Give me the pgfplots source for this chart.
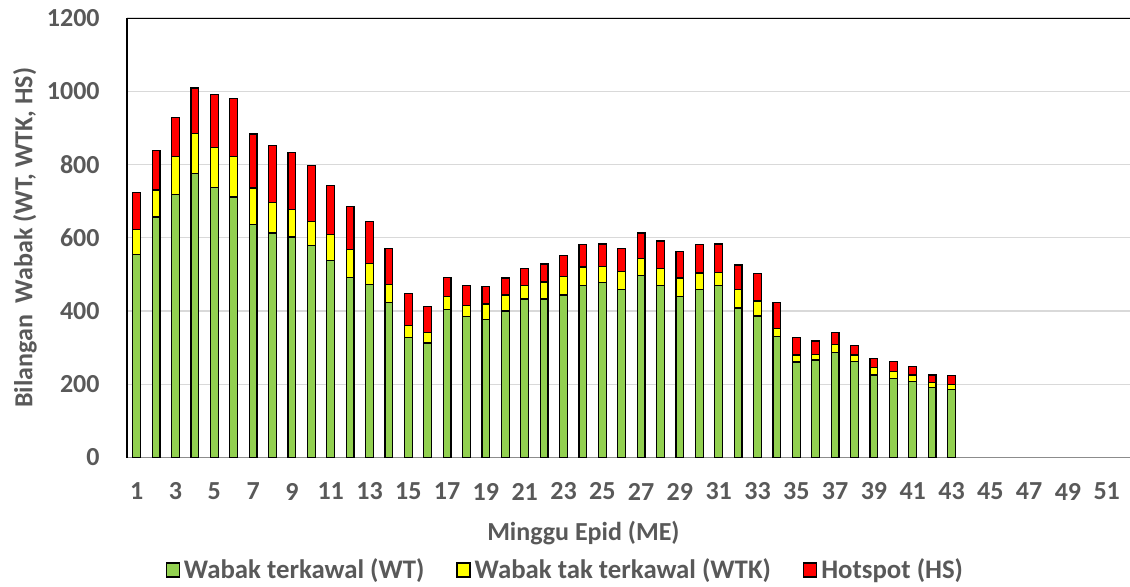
\documentclass[border=0pt]{standalone}
\usepackage{pgfplots}
\usepackage{pgfplotstable}
\pgfplotsset{compat=1.18}
\usepackage{fontspec}
\setmainfont{Carlito}
\definecolor{txtgray}{HTML}{595959}
\definecolor{gridgray}{HTML}{D9D9D9}
\definecolor{axgray}{HTML}{8C8C8C}
\definecolor{wtgreen}{HTML}{92D050}
\definecolor{wtkyellow}{HTML}{FFFF00}
\definecolor{hsred}{HTML}{FF0000}
\pgfplotstableread{
week wt wtk hs
1 554 69 101
2 657 73 108
3 719 103 106
4 775 109 125
5 737 110 144
6 711 110 159
7 637 99 147
8 613 83 156
9 602 75 155
10 578 67 152
11 538 70 134
12 491 76 118
13 473 56 116
14 424 49 98
15 327 34 87
16 313 29 70
17 404 36 51
18 385 30 55
19 376 43 48
20 400 44 46
21 433 37 46
22 433 46 49
23 444 51 56
24 470 50 61
25 478 44 61
26 458 50 62
27 496 48 69
28 470 46 75
29 440 50 72
30 458 46 77
31 470 36 77
32 408 50 68
33 386 41 75
34 330 22 71
35 261 19 47
36 266 15 37
37 287 22 32
38 263 17 26
39 225 21 24
40 215 19 28
41 208 17 24
42 192 12 21
43 186 13 25
}\datatable
\newcommand{\lbl}{\fontsize{13}{15}\selectfont\bfseries\color{txtgray}}
\newcommand{\lgd}{\fontsize{13.4}{15}\selectfont\bfseries\color{txtgray}}
\begin{document}
\begin{tikzpicture}
\begin{axis}[
  at={(0,0)}, anchor=south west,
  scale only axis,
  width=501.5pt, height=219.75pt,
  xmin=0.5, xmax=52.2, ymin=0, ymax=1200,
  enlargelimits=false,
  ybar stacked, bar width=3.9pt,
  xtick={1,3,...,51},
  ytick={0,200,...,1200},
  major tick length=0pt,
  ymajorgrids, grid style={gridgray, line width=0.7pt},
  axis x line*=bottom, axis y line*=left,
  x axis line style={-, axgray, line width=0.75pt},
  y axis line style={-, black, line width=1.3pt},
  /pgf/number format/assume math mode=true,
  /pgf/number format/1000 sep={},
  tick label style={font=\lbl, inner sep=0pt},
  xticklabel style={anchor=center, yshift=-17pt},
  yticklabel style={anchor=east, xshift=-13.5pt},
  xlabel={Minggu Epid (ME)},
  xlabel style={font=\lbl, at={(rel axis cs:0.455,0)}, anchor=base, yshift=-41.25pt, inner sep=0pt},
  ylabel={Bilangan\ \ Wabak (WT, WTK, HS)},
  ylabel style={font=\lbl, at={(rel axis cs:0,0.5)}, anchor=center, yshift=51pt, inner sep=0pt},
  legend columns=3,
  legend style={draw=none, fill=none, at={(rel axis cs:0.438,0)}, anchor=center, yshift=-56.25pt,
    font=\lgd, inner sep=0pt, row sep=0pt,
    /tikz/every odd column/.append style={column sep=0pt},
    /tikz/every even column/.append style={column sep=14pt}},
  legend cell align=left,
  legend image code/.code={\draw[#1, line width=0.65pt] (0pt,-3.5pt) rectangle (6.5pt,3.5pt);},
  every axis plot/.append style={draw=black, line width=0.65pt},
]
\addplot[fill=wtgreen] table[x=week, y=wt] {\datatable};
\addlegendentry{Wabak terkawal (WT)}
\addplot[fill=wtkyellow] table[x=week, y=wtk] {\datatable};
\addlegendentry{Wabak tak terkawal (WTK)}
\addplot[fill=hsred] table[x=week, y=hs] {\datatable};
\addlegendentry{Hotspot (HS)}
\draw[black, line width=1.3pt] (rel axis cs:0,1) -- (rel axis cs:1,1);
\end{axis}
\pgfresetboundingbox
\path[use as bounding box] (-63.5pt,-64.25pt) rectangle (501.5pt,228.75pt);
\end{tikzpicture}
\end{document}
